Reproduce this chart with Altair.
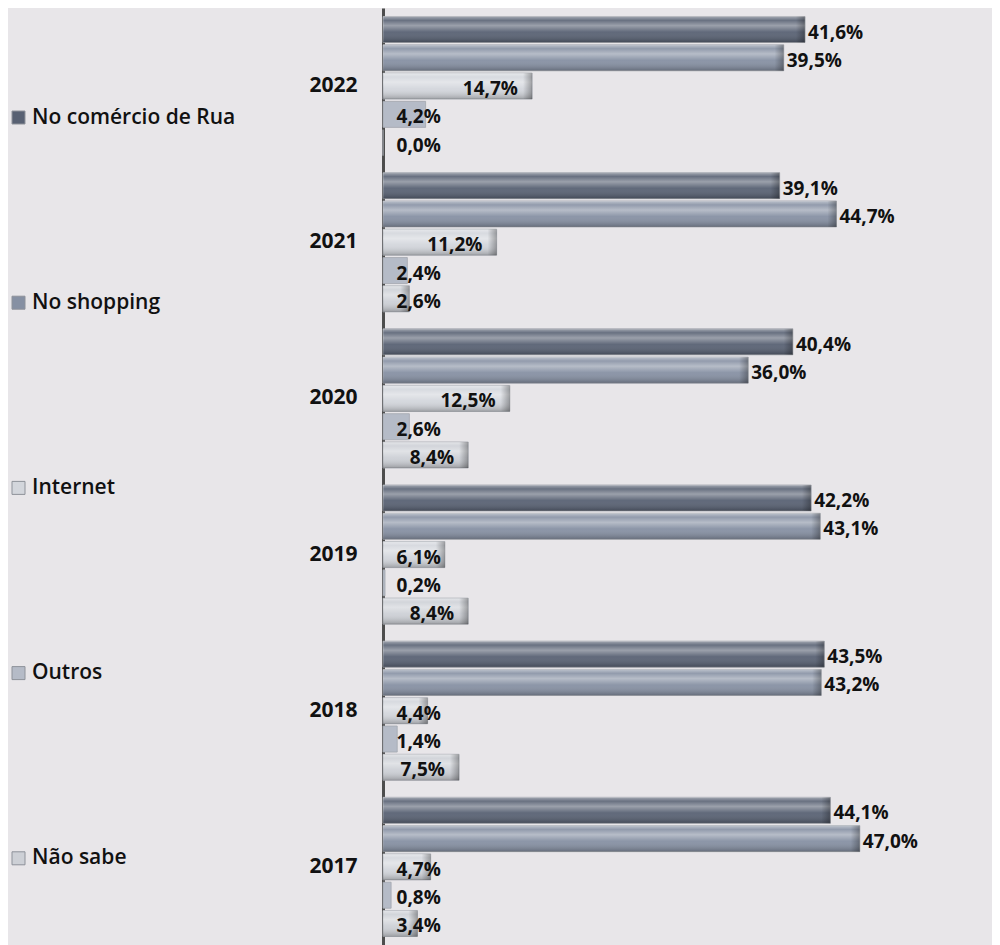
import altair as alt
import pandas as pd

years = ["2022", "2021", "2020", "2019", "2018", "2017"]
categories = ["No comércio de Rua", "No shopping", "Internet", "Outros", "Não sabe"]
rua = [41.6, 39.1, 40.4, 42.2, 43.5, 44.1]
shopping = [39.5, 44.7, 36.0, 43.1, 43.2, 47.0]
internet = [14.7, 11.2, 12.5, 6.1, 4.4, 4.7]
outros = [4.2, 2.4, 2.6, 0.2, 1.4, 0.8]
nao_sabe = [0.0, 2.6, 8.4, 8.4, 7.5, 3.4]
colors = ["#586173", "#8690a3", "#d3d6dc", "#b5bbc7", "#cdd0d6"]

series = [rua, shopping, internet, outros, nao_sabe]
rows = []
for cat, vals in zip(categories, series):
    for y, v in zip(years, vals):
        rows.append({"ano": y, "cat": cat, "v": v})
df = pd.DataFrame(rows)

FONT = "Open Sans"

base = alt.Chart(df).transform_calculate(
    lab="replace(format(datum.v, '.1f'), '.', ',') + '%'"
)

y_enc = alt.Y("ano:N", sort=years, title=None,
              scale=alt.Scale(paddingInner=0, paddingOuter=0),
              axis=alt.Axis(domainColor="#4d4d4d", domainWidth=3, ticks=False,
                            labelFont=FONT, labelFontSize=21, labelFontWeight="bold",
                            labelColor="#111", labelPadding=26, grid=False))
yoff = alt.YOffset("cat:N", sort=categories,
                   scale=alt.Scale(paddingInner=0.08, paddingOuter=0.3))
x_scale = alt.Scale(domain=[0, 55])

bars = base.mark_bar(stroke="#a3a7ae", strokeWidth=0.8).encode(
    x=alt.X("v:Q", scale=x_scale, axis=None),
    y=y_enc,
    yOffset=yoff,
    color=alt.Color("cat:N", sort=categories,
                    scale=alt.Scale(domain=categories, range=colors),
                    legend=alt.Legend(orient="none", legendX=-375, legendY=99,
                                      title=None, symbolType="square", symbolSize=169,
                                      symbolStrokeColor="#8e929a", symbolStrokeWidth=1,
                                      labelFont=FONT, labelFontSize=21, labelFontWeight=600,
                                      labelColor="#111", labelOffset=3, rowPadding=163.2,
                                      labelLimit=320)),
)

sheen = base.transform_filter("datum.cat != 'Outros'").mark_bar(
    color=alt.LinearGradient(
        gradient="linear", x1=0, y1=0, x2=0, y2=1,
        stops=[
            alt.GradientStop(offset=0, color="rgba(255,255,255,0.45)"),
            alt.GradientStop(offset=0.15, color="rgba(255,255,255,0.10)"),
            alt.GradientStop(offset=0.35, color="rgba(255,255,255,0.40)"),
            alt.GradientStop(offset=0.6, color="rgba(255,255,255,0.05)"),
            alt.GradientStop(offset=1, color="rgba(0,0,0,0.25)"),
        ],
    )
).encode(
    x=alt.X("v:Q", scale=x_scale, axis=None),
    y=alt.Y("ano:N", sort=years),
    yOffset=yoff,
)

cap = base.transform_filter("datum.cat != 'Outros' && datum.v > 0").transform_calculate(
    x0="max(datum.v - 0.9, 0)"
).mark_bar(
    color=alt.LinearGradient(
        gradient="linear", x1=0, y1=0, x2=1, y2=0,
        stops=[
            alt.GradientStop(offset=0, color="rgba(0,0,0,0.0)"),
            alt.GradientStop(offset=1, color="rgba(0,0,0,0.30)"),
        ],
    )
).encode(
    x=alt.X("x0:Q", scale=x_scale, axis=None),
    x2="v:Q",
    y=alt.Y("ano:N", sort=years),
    yOffset=yoff,
)

big = base.transform_filter("datum.v >= 20").mark_text(
    align="left", baseline="middle", dx=3, dy=3,
    font=FONT, fontSize=19, fontWeight="bold", color="#111"
).encode(
    x=alt.X("v:Q", scale=x_scale),
    y=alt.Y("ano:N", sort=years),
    yOffset=yoff,
    text="lab:N",
)

small = base.transform_filter("datum.v < 20").transform_calculate(
    lx="max(datum.v - 1.4, 5.7)"
).mark_text(
    align="right", baseline="middle", dy=3,
    font=FONT, fontSize=19, fontWeight="bold", color="#111"
).encode(
    x=alt.X("lx:Q", scale=x_scale),
    y=alt.Y("ano:N", sort=years),
    yOffset=yoff,
    text="lab:N",
)

chart = alt.layer(bars, sheen, cap, big, small).properties(
    width=558, height=937,
    autosize=alt.AutoSizeParams(type="none"),
    padding={"left": 375, "top": 0, "right": 51, "bottom": 0},
    background="#e8e6e9",
).configure_view(stroke=None)

chart.save("out.html", embed_options={"renderer": "svg", "actions": False})
